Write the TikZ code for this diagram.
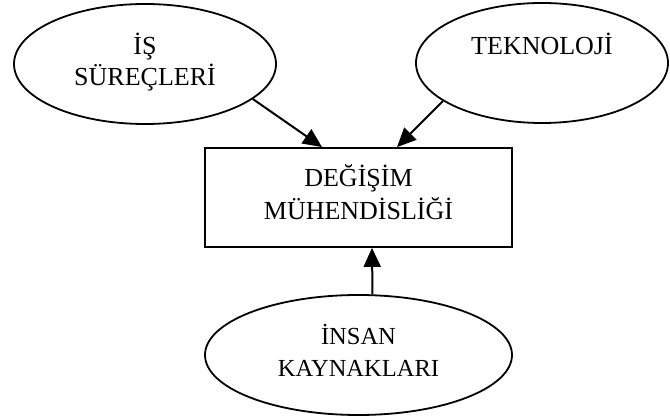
\documentclass[tikz,border=0pt]{standalone}
\usepackage{fontspec}
\setmainfont{Liberation Serif}
\usetikzlibrary{arrows.meta,shapes.geometric}
\newcommand{\lines}[2]{\raisebox{#1}[0pt][0pt]{\begin{tabular}[t]{@{}c@{}}#2\end{tabular}}}
\begin{document}
\begin{tikzpicture}[x=1pt,y=1pt,
  oval/.style={draw,ellipse,line width=1.8pt,inner sep=0pt,font=\fontsize{26}{30}\selectfont},
  boxnode/.style={draw,rectangle,line width=1.8pt,inner sep=0pt,minimum width=307pt,minimum height=99pt,font=\fontsize{26}{33}\selectfont},
  conn/.style={line width=2pt,-{Triangle[length=19pt,width=17pt]}}]
\useasboundingbox (0,0) rectangle (670,-419);
\node[oval,minimum width=262pt,minimum height=120pt] (L) at (145,-64) {\lines{9pt}{İŞ\\SÜREÇLERİ}};
\node[oval,minimum width=252pt,minimum height=120pt] (R) at (542,-63) {\lines{8pt}{TEKNOLOJİ}};
\node[boxnode] (M) at (358.5,-197.5) {\lines{10.5pt}{DEĞİŞİM\\MÜHENDİSLİĞİ}};
\node[oval,minimum width=307pt,minimum height=120pt,font=\fontsize{24.5}{32}\selectfont] (B) at (358.5,-355) {\lines{10pt}{İNSAN\\KAYNAKLARI}};
\draw[conn] (L.-18.4) -- ([xshift=-36.5pt]M.north);
\draw[conn] (R.201.3) -- ([xshift=38.5pt]M.north);
\draw[conn] (B.77.3) -- ([xshift=13.5pt]M.south);
\end{tikzpicture}
\end{document}
